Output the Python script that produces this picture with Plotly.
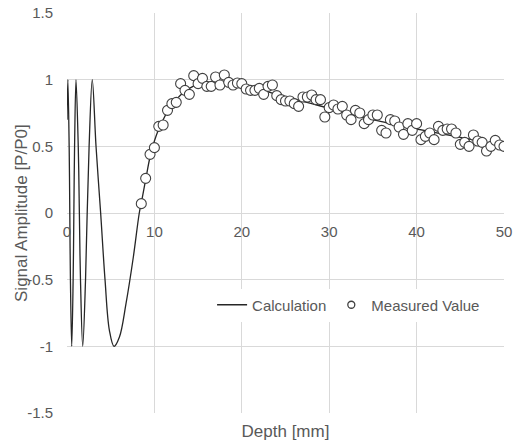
import plotly.graph_objects as go

# ---- data ----
calc_depth = [0.0, 0.10, 0.247, 0.32, 0.393, 0.54, 0.703, 0.785, 0.867, 1.03,
              1.287, 1.415, 1.543, 1.80, 2.12, 2.31, 2.53, 2.89, 3.32, 3.85,
              4.35, 4.85, 5.38, 6.0, 6.75, 7.59, 8.27, 8.6, 9.0, 9.5,
              10.0, 10.5, 11.0, 11.5, 12.0, 13.0, 14.0, 15.0, 16.0, 17.0,
              18.0, 19.0, 20.0, 22.0, 24.0, 26.0, 28.0, 30.0, 32.0, 34.0,
              36.0, 38.0, 40.0, 42.0, 44.0, 46.0, 48.0, 50.0]
calc_amp = [0.70, 1.0, 0.5, 0.0, -0.5, -1.0, -0.5, 0.0, 0.5, 1.0,
            0.5, 0.0, -0.5, -1.0, -0.5, 0.0, 0.5, 1.0, 0.5, 0.0,
            -0.5, -0.88, -1.0, -0.93, -0.68, -0.33, 0.0, 0.11, 0.25, 0.42,
            0.54, 0.63, 0.70, 0.76, 0.81, 0.885, 0.935, 0.965, 0.98, 0.985,
            0.98, 0.97, 0.955, 0.925, 0.89, 0.855, 0.82, 0.785, 0.75, 0.715,
            0.685, 0.655, 0.63, 0.605, 0.58, 0.555, 0.53, 0.505]

meas_depth = [8.5, 9.0, 9.5, 10.0, 10.5, 11.0, 11.5, 12.0, 12.5, 13.0,
              13.5, 14.0, 14.5, 15.0, 15.5, 16.0, 16.5, 17.0, 17.5, 18.0,
              18.5, 19.0, 19.5, 20.0, 20.5, 21.0, 21.5, 22.0, 22.5, 23.0,
              23.5, 24.0, 24.5, 25.0, 25.5, 26.0, 26.5, 27.0, 27.5, 28.0,
              28.5, 29.0, 29.5, 30.0, 30.5, 31.0, 31.5, 32.0, 32.5, 33.0,
              33.5, 34.0, 34.5, 35.0, 35.5, 36.0, 36.5, 37.0, 37.5, 38.0,
              38.5, 39.0, 39.5, 40.0, 40.5, 41.0, 41.5, 42.0, 42.5, 43.0,
              43.5, 44.0, 44.5, 45.0, 45.5, 46.0, 46.5, 47.0, 47.5, 48.0,
              48.5, 49.0, 49.5, 50.0]
meas_amp = [0.07, 0.26, 0.44, 0.49, 0.65, 0.66, 0.77, 0.82, 0.83, 0.97,
            0.92, 0.89, 1.03, 0.97, 1.01, 0.95, 0.95, 1.02, 0.96, 1.035,
            0.98, 0.96, 0.975, 0.97, 0.93, 0.92, 0.92, 0.935, 0.89, 0.95,
            0.96, 0.88, 0.85, 0.84, 0.84, 0.82, 0.80, 0.87, 0.87, 0.885,
            0.85, 0.85, 0.72, 0.79, 0.81, 0.78, 0.80, 0.735, 0.70, 0.77,
            0.75, 0.67, 0.70, 0.735, 0.735, 0.62, 0.60, 0.70, 0.69, 0.645,
            0.59, 0.67, 0.62, 0.67, 0.55, 0.575, 0.60, 0.55, 0.65, 0.62,
            0.63, 0.63, 0.60, 0.515, 0.53, 0.50, 0.585, 0.54, 0.53, 0.465,
            0.50, 0.545, 0.51, 0.50]

x_ticks = [0, 10, 20, 30, 40, 50]
x_tick_labels = ["0", "10", "20", "30", "40", "50"]
y_ticks = [-1.5, -1.0, -0.5, 0.0, 0.5, 1.0, 1.5]
y_tick_labels = ["-1.5", "-1", "-0.5", "0", "0.5", "1", "1.5"]

TXT = "#595959"
GRID = "#d9d9d9"
FONT = "Liberation Sans, Arial, sans-serif"

fig = go.Figure()

fig.add_trace(go.Scatter(
    x=calc_depth, y=calc_amp, mode="lines", name="Calculation",
    line=dict(color="#262626", width=1.3, shape="spline", smoothing=1.0),
))
fig.add_trace(go.Scatter(
    x=meas_depth, y=meas_amp, mode="markers", name="Measured Value",
    showlegend=False,
    marker=dict(symbol="circle", size=10, color="white",
                line=dict(color="#404040", width=1.1)),
))
# legend entry with a small circle like the reference
fig.add_trace(go.Scatter(
    x=[None], y=[None], mode="markers", name="Measured Value",
    marker=dict(symbol="circle", size=7, color="white",
                line=dict(color="#404040", width=1.3)),
))
# carrier for the tick labels drawn along y = 0
fig.add_trace(go.Scatter(
    x=[x_ticks[0], x_ticks[-1]], y=[None, None], xaxis="x2", mode="lines",
    showlegend=False, hoverinfo="skip",
))

fig.update_layout(
    width=513, height=444,
    margin=dict(l=67, r=9, t=13, b=31),
    paper_bgcolor="white", plot_bgcolor="white",
    font=dict(family=FONT, color=TXT, size=15),
    showlegend=True,
    legend=dict(orientation="h", x=0.332, xanchor="left", y=0.27,
                yanchor="middle", bgcolor="white",
                font=dict(size=15, color=TXT), tracegroupgap=0),
    xaxis=dict(range=[0, 50], tickvals=x_ticks, showticklabels=False,
               showgrid=True, gridcolor=GRID, gridwidth=1, zeroline=False,
               showline=False, ticks="",
               title=dict(text="Depth [mm]", font=dict(size=17, color=TXT),
                          standoff=12),
               automargin=False),
    xaxis2=dict(overlaying="x", matches="x", anchor="free", position=0.5,
                tickvals=x_ticks, ticktext=x_tick_labels, showgrid=False,
                zeroline=False, showline=False, ticks="",
                tickfont=dict(size=15, color=TXT), ticklabelstandoff=8,
                automargin=False),
    yaxis=dict(range=[-1.5, 1.5], tickvals=y_ticks, ticktext=y_tick_labels,
               showgrid=True, gridcolor=GRID, gridwidth=1, zeroline=False,
               showline=False, ticks="", tickfont=dict(size=15, color=TXT),
               ticklabelstandoff=13, automargin=False),
    annotations=[dict(text="Signal Amplitude [P/P0]", xref="paper",
                      yref="paper", x=-0.1053, y=0.5, xanchor="center",
                      yanchor="middle", textangle=-90, showarrow=False,
                      font=dict(size=17, color=TXT))],
)

fig.write_html("out.html",
               config={"displayModeBar": False},
               post_script="document.body.style.margin='0';"
                           "document.body.style.overflow='hidden';")
